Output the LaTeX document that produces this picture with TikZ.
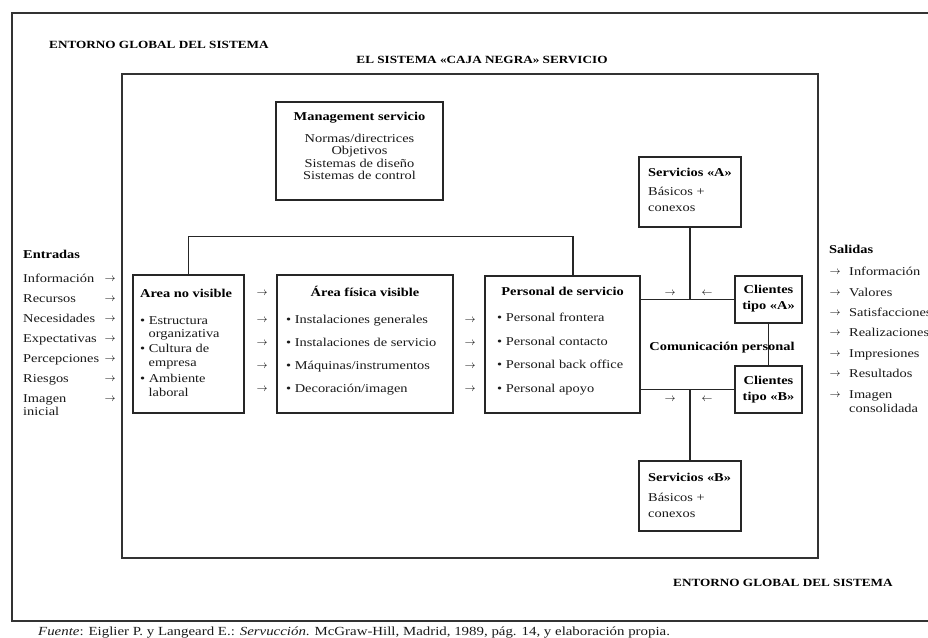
\documentclass[tikz,border=0pt]{standalone}
\usepackage{fontspec}
\setmainfont{Liberation Serif}[FakeStretch=1.2]
\usetikzlibrary{calc}

\begin{document}
\begin{tikzpicture}[x=1pt,y=-1pt,
  frame/.style={draw=black!80, line width=1.3pt},
  box/.style={draw=black!85, line width=1.1pt, inner sep=0pt},
  link/.style={draw=black!85, line width=1.1pt},
  txt/.style={inner sep=0pt, text height=8.5pt, text depth=2.5pt,
    font=\fontsize{12}{13}\selectfont, text=black!90},
  ttl/.style={txt, font=\fontsize{12}{13}\selectfont\bfseries, text=black},
  head/.style={txt, font=\fontsize{11}{13}\selectfont\bfseries, text=black},
  arr/.style={inner sep=0pt, font=\fontsize{11}{12}\selectfont, text=black},
  note/.style={inner sep=0pt, text height=8.5pt, text depth=2.5pt,
    font=\fontsize{12.4}{13}\selectfont, text=black!90},
]
\useasboundingbox (0,0) rectangle (928,637);

% environment frame and system frame
\draw[frame] (928,13) -- (12,13) -- (12,621) -- (928,621);
\draw[frame] (122,74) rectangle (818,558);

\node[head, anchor=west] (envtop) at (49,45) {ENTORNO GLOBAL DEL SISTEMA};
\node[head] (systitle) at (482,60) {EL SISTEMA «CAJA NEGRA» SERVICIO};
\node[head, anchor=west] (envbot) at (673,583) {ENTORNO GLOBAL DEL SISTEMA};

% boxes
\node[box, minimum width=167pt, minimum height=98pt] (mgmt) at (359.5,151) {};
\node[box, minimum width=102pt, minimum height=70pt] (sa) at (690,192) {};
\node[box, minimum width=102pt, minimum height=70pt] (sb) at (690,496) {};
\node[box, minimum width=111pt, minimum height=138pt] (anv) at (188.5,344) {};
\node[box, minimum width=176pt, minimum height=138pt] (afv) at (365,344) {};
\node[box, minimum width=155pt, minimum height=137pt] (pers) at (562.5,344.5) {};
\node[box, minimum width=67pt, minimum height=47pt] (cla) at (768.5,299.5) {};
\node[box, minimum width=67pt, minimum height=47pt] (clb) at (768.5,389.5) {};

% connectors
\draw[link] (anv.north) -- ++(0,-38) -| ([xshift=10.5pt]pers.north);
\draw[link] (pers.east |- cla.west) -- (cla.west);
\draw[link] (pers.east |- clb.west) -- (clb.west);
\draw[link] (sa.south) -- (sa.south |- cla.west);
\draw[link] (sb.north) -- (sb.north |- clb.west);
\draw[link] (cla.south) -- (clb.north);

% management
\node[ttl] (mgt) at (359.5,117) {Management servicio};
\node[txt] (mg1) at (359.5,139) {Normas/directrices};
\node[txt] (mg2) at (359.5,151.5) {Objetivos};
\node[txt] (mg3) at (359.5,164) {Sistemas de diseño};
\node[txt] (mg4) at (359.5,176.5) {Sistemas de control};

% services A / B
\node[ttl, anchor=west] (sat) at (648,173) {Servicios «A»};
\node[txt, anchor=west] (sa1) at (648,192) {Básicos +};
\node[txt, anchor=west] (sa2) at (648,208) {conexos};
\node[ttl, anchor=west] (sbt) at (648,478) {Servicios «B»};
\node[txt, anchor=west] (sb1) at (648,498) {Básicos +};
\node[txt, anchor=west] (sb2) at (648,514) {conexos};

% customers
\node[ttl] (cla1) at (768.5,290) {Clientes};
\node[ttl] (cla2) at (768.5,306) {tipo «A»};
\node[ttl] (clb1) at (768.5,381) {Clientes};
\node[ttl] (clb2) at (768.5,397) {tipo «B»};
\node[ttl] (com) at (722,347) {Comunicación personal};

\node[arr] (ar1) at (670,293) {$\rightarrow$};
\node[arr] (ar2) at (707,293) {$\leftarrow$};
\node[arr] (ar3) at (670,399) {$\rightarrow$};
\node[arr] (ar4) at (707,399) {$\leftarrow$};

% area no visible
\node[ttl, anchor=west] (anvt) at (140,294) {Area no visible};
\node[txt, anchor=west] (anv1) at (140,321) {• Estructura};
\node[txt, anchor=west] (anv2) at (148.5,334) {organizativa};
\node[txt, anchor=west] (anv3) at (140,349) {• Cultura de};
\node[txt, anchor=west] (anv4) at (148.5,363) {empresa};
\node[txt, anchor=west] (anv5) at (140,379) {• Ambiente};
\node[txt, anchor=west] (anv6) at (148.5,393) {laboral};

% area fisica visible
\node[ttl] (afvt) at (365,293) {Área física visible};
\node[txt, anchor=west] (afv1) at (286,320) {• Instalaciones generales};
\node[txt, anchor=west] (afv2) at (286,343) {• Instalaciones de servicio};
\node[txt, anchor=west] (afv3) at (286,366) {• Máquinas/instrumentos};
\node[txt, anchor=west] (afv4) at (286,389) {• Decoración/imagen};

% personal de servicio
\node[ttl] (perst) at (562.5,292) {Personal de servicio};
\node[txt, anchor=west] (pers1) at (497,318) {• Personal frontera};
\node[txt, anchor=west] (pers2) at (497,342) {• Personal contacto};
\node[txt, anchor=west] (pers3) at (497,365) {• Personal back office};
\node[txt, anchor=west] (pers4) at (497,389) {• Personal apoyo};

% flow marks between the areas
\foreach \y [count=\i] in {293,320,343,366,389}
  \node[arr] (fa\i) at (262,\y) {$\rightarrow$};
\foreach \y [count=\i] in {320,343,366,389}
  \node[arr] (fb\i) at (470,\y) {$\rightarrow$};

% inputs
\node[ttl, anchor=west] (entr) at (23,255) {Entradas};
\foreach \t/\y [count=\i] in {Información/279, Recursos/299, Necesidades/319,
    Expectativas/339, Percepciones/359, Riesgos/379, Imagen/399}{
  \node[txt, anchor=west] (in\i) at (23,\y) {\t};
  \node[arr] (ina\i) at (110,\y) {$\rightarrow$};
}
\node[txt, anchor=west] (in8) at (23,412) {inicial};

% outputs
\node[ttl, anchor=west] (sal) at (829,250) {Salidas};
\foreach \t/\y [count=\i] in {Información/272, Valores/293, Satisfacciones/313,
    Realizaciones/333, Impresiones/354, Resultados/374, Imagen/395}{
  \node[arr] (outa\i) at (835,\y) {$\rightarrow$};
  \node[txt, anchor=west] (out\i) at (849,\y) {\t};
}
\node[txt, anchor=west] (out8) at (849,409) {consolidada};

% source line
\node[note, anchor=west] (src) at (38,632)
  {\textit{Fuente}: Eiglier P. y Langeard E.: \textit{Servucción}. McGraw-Hill, Madrid, 1989, pág. 14, y elaboración propia.};
\end{tikzpicture}
\end{document}
